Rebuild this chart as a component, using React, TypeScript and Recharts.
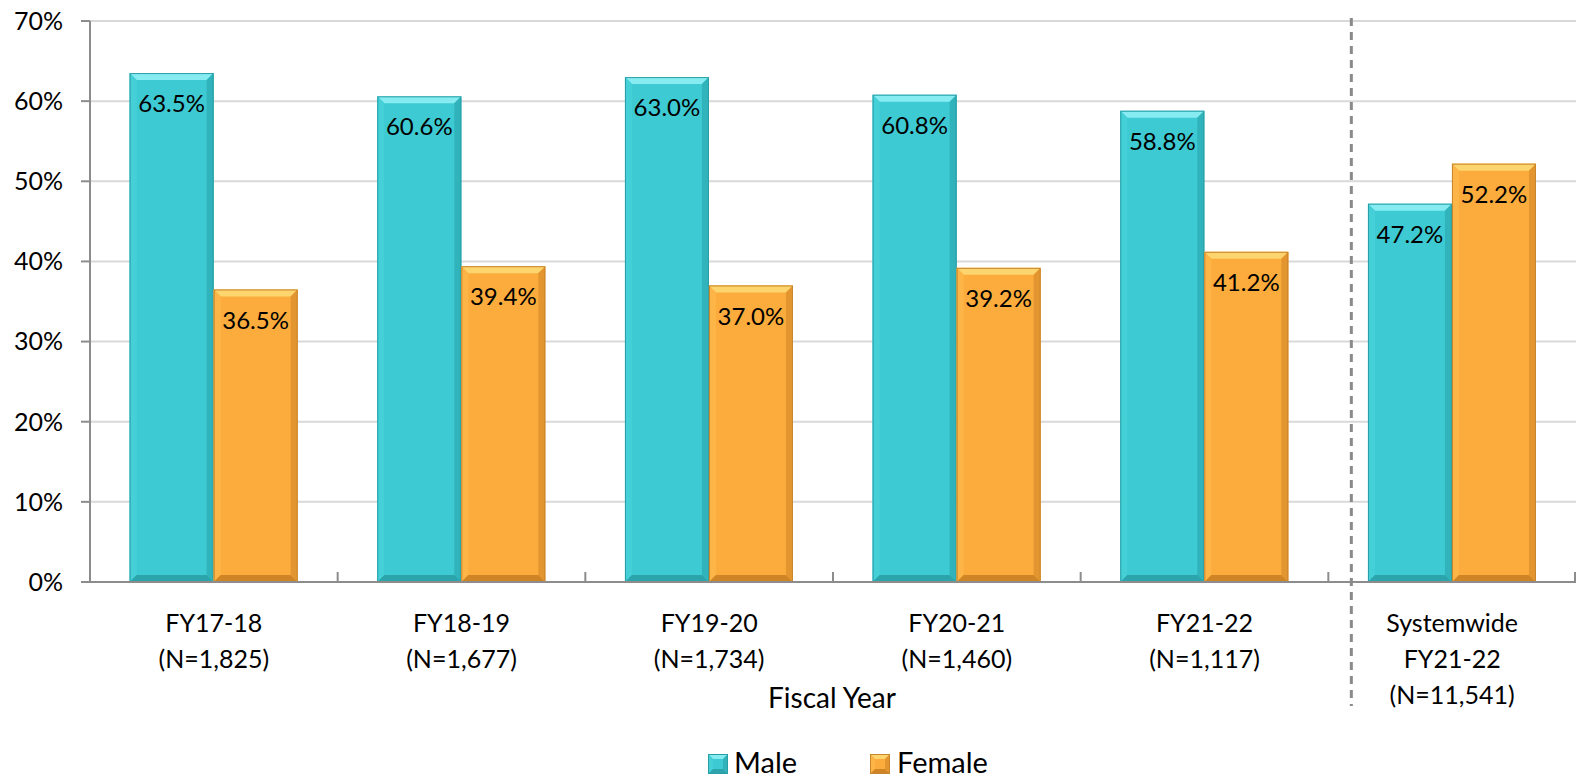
import React from 'react';
import { BarChart, Bar, XAxis, YAxis, CartesianGrid, LabelList, Legend } from 'recharts';

const categories = ['FY17-18|(N=1,825)', 'FY18-19|(N=1,677)', 'FY19-20|(N=1,734)', 'FY20-21|(N=1,460)', 'FY21-22|(N=1,117)', 'Systemwide|FY21-22|(N=11,541)'];
const maleValues = [63.5, 60.6, 63.0, 60.8, 58.8, 47.2];
const femaleValues = [36.5, 39.4, 37.0, 39.2, 41.2, 52.2];
const yTicks = [0, 10, 20, 30, 40, 50, 60, 70];

const data = categories.map((c, i) => ({ name: c, male: maleValues[i], female: femaleValues[i] }));

const W = 1576;
const H = 779;
const LEFT = 90;
const TOP = 21;
const XAXIS_H = 140;
const LEGEND_H = 57;
const FONT = 'Lato, "Open Sans", sans-serif';

const PAL: Record<string, any> = {
  male: { main: '#3ECAD2', top: '#86ECF1', left: '#45D0D8', right: '#30B3BB', bottom: '#2BA4AB', stroke: '#2A9EA5' },
  female: { main: '#FBAC3C', top: '#FDD56E', left: '#FDB548', right: '#E39630', bottom: '#CF8526', stroke: '#C8862C' },
};

function bevel(x: number, y: number, w: number, h: number, p: any, b: number) {
  const bb = Math.min(b, w / 2, h / 2);
  return (
    <g>
      <rect x={x} y={y} width={w} height={h} fill={p.main} />
      <polygon points={`${x},${y} ${x + w},${y} ${x + w - bb},${y + bb} ${x + bb},${y + bb}`} fill={p.top} />
      <polygon points={`${x},${y} ${x + bb},${y + bb} ${x + bb},${y + h - bb} ${x},${y + h}`} fill={p.left} />
      <polygon points={`${x + w},${y} ${x + w - bb},${y + bb} ${x + w - bb},${y + h - bb} ${x + w},${y + h}`} fill={p.right} />
      <polygon points={`${x},${y + h} ${x + bb},${y + h - bb} ${x + w - bb},${y + h - bb} ${x + w},${y + h}`} fill={p.bottom} />
      <rect x={x + 0.5} y={y + 0.5} width={Math.max(0, w - 1)} height={Math.max(0, h - 1)} fill="none" stroke={p.stroke} strokeWidth={1} />
    </g>
  );
}

const makeShape = (key: string) => (props: any) => {
  const { x, y, width, height } = props;
  if (!height || height <= 0) return <g />;
  return bevel(x, y, width, height, PAL[key], 7);
};

const plotW = W - LEFT;
const band = plotW / categories.length;

const XTick = (props: any) => {
  const { x, y, payload, index } = props;
  const lines = String(payload.value).split('|');
  const bx = x - band / 2;
  return (
    <g>
      <line x1={bx} y1={y - 10} x2={bx} y2={y - 1} stroke="#8c8c8c" strokeWidth={2} />
      {index === categories.length - 1 && (
        <line x1={x + band / 2 - 1} y1={y - 10} x2={x + band / 2 - 1} y2={y - 1} stroke="#8c8c8c" strokeWidth={2} />
      )}
      <text x={x} y={y} textAnchor="middle" fontFamily={FONT} fontSize={25} fill="#000">
        {lines.map((l, i) => (
          <tspan key={i} x={x} y={y + 50 + i * 36}>{l}</tspan>
        ))}
      </text>
    </g>
  );
};

const LegendContent = () => (
  <div style={{ position: 'relative', height: LEGEND_H, width: W }}>
    <svg width={W} height={LEGEND_H} style={{ position: 'absolute', left: 0, top: 0 }}>
      {bevel(708, 32, 20, 20, PAL.male, 5)}
      <text x={734} y={51} fontFamily={FONT} fontSize={29} fill="#000">Male</text>
      {bevel(870, 32, 20, 20, PAL.female, 5)}
      <text x={897} y={51} fontFamily={FONT} fontSize={29} fill="#000">Female</text>
    </svg>
  </div>
);

export default function App() {
  const dashX = LEFT + 5 * band + 23;
  return (
    <div style={{ position: 'absolute', left: 0, top: 0, width: W, height: H, background: '#fff' }}>
      <BarChart
        width={W}
        height={H}
        data={data}
        margin={{ top: TOP, right: 0, left: 0, bottom: 0 }}
        barCategoryGap="16%"
        barGap={0}
      >
        <CartesianGrid vertical={false} stroke="#d9d9d9" strokeWidth={2} />
        <YAxis
          width={LEFT}
          domain={[0, 70]}
          ticks={yTicks}
          tickFormatter={(v: number) => `${v}%`}
          axisLine={{ stroke: '#8c8c8c', strokeWidth: 2 }}
          tickLine={{ stroke: '#8c8c8c', strokeWidth: 2 }}
          tickSize={9}
          tickMargin={18}
          tick={{ fontFamily: FONT, fontSize: 25, fill: '#000' }}
        />
        <XAxis
          dataKey="name"
          height={XAXIS_H}
          interval={0}
          axisLine={{ stroke: '#8c8c8c', strokeWidth: 2 }}
          tickLine={false}
          tickSize={0}
          tickMargin={0}
          tick={<XTick />}
          label={{ value: 'Fiscal Year', position: 'insideBottom', offset: 14, fontFamily: FONT, fontSize: 28, fill: '#000', dx: -1 }}
        />
        <Legend verticalAlign="bottom" height={LEGEND_H} content={<LegendContent />} />
        <Bar dataKey="male" name="Male" fill={PAL.male.main} shape={makeShape('male')} isAnimationActive={false}>
          <LabelList dataKey="male" position="insideTop" offset={22} formatter={(v: number) => `${v.toFixed(1)}%`} style={{ fontFamily: FONT, fontSize: 24, fill: '#000' }} />
        </Bar>
        <Bar dataKey="female" name="Female" fill={PAL.female.main} shape={makeShape('female')} isAnimationActive={false}>
          <LabelList dataKey="female" position="insideTop" offset={22} formatter={(v: number) => `${v.toFixed(1)}%`} style={{ fontFamily: FONT, fontSize: 24, fill: '#000' }} />
        </Bar>
      </BarChart>
      <svg width={W} height={H} style={{ position: 'absolute', left: 0, top: 0, pointerEvents: 'none' }}>
        <line x1={dashX} y1={18} x2={dashX} y2={706} stroke="#8a8a8a" strokeWidth={3} strokeDasharray="8 6" />
      </svg>
    </div>
  );
}
